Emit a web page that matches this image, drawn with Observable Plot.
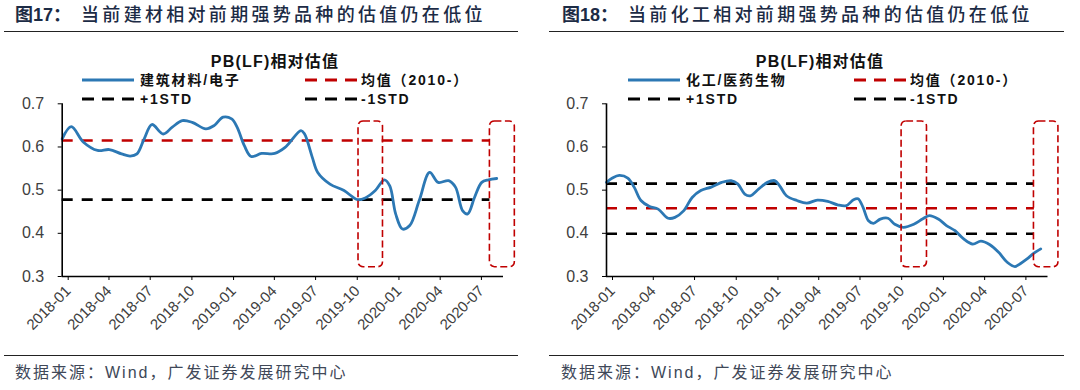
<!DOCTYPE html>
<html><head><meta charset="utf-8">
<script src="https://cdn.jsdelivr.net/npm/d3@7"></script>
<script src="https://cdn.jsdelivr.net/npm/@observablehq/plot@0.6"></script>
<style>
body{margin:0;width:1080px;height:390px;position:relative;background:#fff;overflow:hidden;
 font-family:"Liberation Sans","Noto Sans CJK SC",sans-serif;}
.abs{position:absolute;white-space:nowrap;}
.title{font-size:18px;color:#1c2b45;letter-spacing:3.3px;line-height:20px;font-weight:500;}
.title b{font-weight:bold;letter-spacing:0;margin-right:10px;}
.rule{position:absolute;height:1.5px;background:#222;}
.ctitle{font-size:16px;font-weight:bold;color:#111;letter-spacing:1.2px;transform:translateX(-50%);line-height:18px;}
.leg{font-size:14px;font-weight:bold;color:#111;letter-spacing:1.8px;line-height:16px;}
.src{font-size:16px;color:#404858;letter-spacing:2px;line-height:18px;}
svg.sym{position:absolute;overflow:visible;}
</style>
</head><body>
<div id="root"></div>
<script>
// ---------- data ----------
const xTicks = ["2018-01","2018-04","2018-07","2018-10","2019-01","2019-04","2019-07","2019-10","2020-01","2020-04","2020-07"];
const xDomain = ["2018-01-01","2020-09-01"];
const yTicks = [0.3,0.4,0.5,0.6,0.7];

const leftTitleNum = "图17：";
const leftTitle = "当前建材相对前期强势品种的估值仍在低位";
const rightTitleNum = "图18：";
const rightTitle = "当前化工相对前期强势品种的估值仍在低位";
const chartTitle = "PB(LF)相对估值";
const leftSeriesName = "建筑材料/电子";
const rightSeriesName = "化工/医药生物";
const refNames = ["均值（2010-）","+1STD","-1STD"];
const source = "数据来源：Wind，广发证券发展研究中心";

const leftDates = ["2018-01-01","2018-01-21","2018-02-17","2018-03-20","2018-04-15","2018-05-12","2018-05-31","2018-06-15","2018-07-01","2018-07-18","2018-08-12","2018-09-01","2018-09-23","2018-10-15","2018-11-14","2018-12-03","2018-12-22","2019-01-10","2019-01-22","2019-02-07","2019-02-22","2019-03-17","2019-04-15","2019-05-08","2019-06-12","2019-06-20","2019-07-07","2019-07-19","2019-08-15","2019-09-15","2019-10-15","2019-11-01","2019-11-23","2019-12-13","2019-12-25","2020-01-07","2020-01-22","2020-02-07","2020-02-28","2020-03-22","2020-04-10","2020-05-03","2020-05-18","2020-06-03","2020-06-14","2020-06-29","2020-07-15","2020-07-30","2020-08-17"];
const leftValues = [0.619,0.647,0.611,0.592,0.594,0.584,0.579,0.584,0.619,0.652,0.630,0.646,0.661,0.657,0.642,0.650,0.669,0.665,0.646,0.603,0.578,0.585,0.585,0.599,0.638,0.630,0.576,0.541,0.514,0.499,0.478,0.482,0.499,0.524,0.510,0.445,0.410,0.418,0.476,0.541,0.518,0.522,0.507,0.452,0.445,0.483,0.518,0.524,0.527];

const rightDates = ["2018-01-01","2018-01-14","2018-01-29","2018-02-17","2018-03-03","2018-03-18","2018-04-06","2018-04-25","2018-05-17","2018-06-01","2018-06-20","2018-07-09","2018-07-28","2018-08-20","2018-09-12","2018-10-03","2018-10-18","2018-11-02","2018-11-14","2018-12-03","2018-12-22","2019-01-07","2019-01-18","2019-02-02","2019-02-25","2019-03-19","2019-04-11","2019-05-04","2019-05-26","2019-06-14","2019-06-30","2019-07-10","2019-07-21","2019-08-02","2019-08-13","2019-08-28","2019-09-14","2019-09-29","2019-10-18","2019-11-10","2019-11-29","2019-12-14","2020-01-03","2020-01-21","2020-02-09","2020-02-28","2020-03-19","2020-04-06","2020-04-25","2020-05-15","2020-06-03","2020-06-20","2020-07-01","2020-07-16","2020-08-01","2020-08-16"];
const rightValues = [0.518,0.528,0.534,0.528,0.507,0.476,0.462,0.456,0.435,0.437,0.452,0.483,0.499,0.507,0.518,0.522,0.514,0.491,0.487,0.503,0.518,0.522,0.510,0.487,0.476,0.470,0.477,0.474,0.466,0.464,0.478,0.480,0.460,0.429,0.423,0.433,0.435,0.421,0.414,0.421,0.433,0.441,0.433,0.418,0.406,0.387,0.375,0.382,0.374,0.356,0.333,0.323,0.329,0.340,0.354,0.364];

// reference levels: [mean, +1STD, -1STD]  (null = off chart)
const leftRefs = [0.615, null, 0.478];
const rightRefs = [0.458, 0.515, 0.399];
const refStart = "2018-01-01";
const refEnd = "2020-08-02";

// highlighted periods (dashed boxes)
const leftBoxStart = ["2019-10-17","2020-08-02"];
const leftBoxEnd = ["2019-12-10","2020-09-26"];
const rightBoxStart = ["2019-10-14","2020-08-01"];
const rightBoxEnd = ["2019-12-09","2020-09-24"];
const boxLow = 0.3215, boxHigh = 0.659;

// ---------- drawing ----------
const BLUE = "#2c78b4", RED = "#c00000", BLACK = "#000";
const D = s => new Date(s + (s.length === 7 ? "-01" : ""));
const root = document.getElementById("root");

function el(tag, cls, style, html){
  const e = document.createElement(tag);
  if (cls) e.className = cls;
  Object.assign(e.style, style || {});
  if (html != null) e.innerHTML = html;
  root.appendChild(e); return e;
}
function sym(x, y, color, dashed){
  const ns = "http://www.w3.org/2000/svg";
  const s = document.createElementNS(ns, "svg");
  s.setAttribute("class","sym"); s.setAttribute("width",52); s.setAttribute("height",6);
  s.style.left = x + "px"; s.style.top = (y - 3) + "px";
  const l = document.createElementNS(ns, "line");
  l.setAttribute("x1",0); l.setAttribute("x2",52); l.setAttribute("y1",3); l.setAttribute("y2",3);
  l.setAttribute("stroke", color); l.setAttribute("stroke-width", 3);
  if (dashed) l.setAttribute("stroke-dasharray","12,8");
  s.appendChild(l); root.appendChild(s);
}

function panel(o){
  const ox = o.ox;
  el("div","abs title",{left:(ox+o.titleX)+"px",top:"5px"}, `<b>${o.num}</b>${o.title}`);
  el("div","rule",{left:(ox+o.ruleX1)+"px",width:(o.ruleX2-o.ruleX1)+"px",top:"30.5px"});
  el("div","rule",{left:(ox+o.ruleX1)+"px",width:(o.ruleX2-o.ruleX1)+"px",top:"354.5px"});
  el("div","abs src",{left:(ox+o.srcX)+"px",top:"364px"}, source);
  const series = o.dates.map((d,i)=>({date:D(d), value:o.values[i]}));
  const refColors = [RED, BLACK, BLACK];
  const refs = o.refs.map((v,i)=>({v, c:refColors[i]})).filter(r=>r.v!=null);
  const boxes = o.boxStart.map((s,i)=>({x1:D(s), x2:D(o.boxEnd[i]), y1:boxLow, y2:boxHigh}));
  const fmtX = d3.utcFormat("%Y-%m");
  const chart = Plot.plot({
    width:o.w, height:250,
    marginTop:13.3, marginBottom:64, marginLeft:o.ml, marginRight:o.mr,
    style:{fontFamily:'"Liberation Sans",Arial,sans-serif', fontSize:"15px", color:"#404040", background:"transparent", overflow:"visible"},
    x:{type:"utc", domain:xDomain.map(D), label:null},
    y:{domain:[0.3,0.7], label:null},
    marks:[
      Plot.axisY(yTicks, {tickSize:4, tickPadding:14, fontSize:16, tickFormat:d3.format(".1f"), stroke:"#000", fill:"#404040"}),
      Plot.axisX(xTicks.map(D), {tickSize:4, tickPadding:8, dx:6, tickRotate:-45, fontSize:15, tickFormat:fmtX, stroke:"#000", fill:"#404040"}),
      Plot.ruleY(refs, {y:"v", x1:D(refStart), x2:D(refEnd), stroke:"c", strokeWidth:2.6, strokeDasharray:"11,9"}),
      Plot.line(series, {x:"date", y:"value", stroke:BLUE, strokeWidth:2.8, curve:"catmull-rom"}),
      Plot.rect(boxes, {x1:"x1", x2:"x2", y1:"y1", y2:"y2", rx:5, fill:"none", stroke:RED, strokeWidth:1.6, strokeDasharray:"7,3.5"}),
      Plot.ruleX([D(xDomain[0])], {stroke:"#000", strokeWidth:1.6}),
      Plot.ruleY([0.3], {stroke:"#000", strokeWidth:1.6})
    ]
  });
  chart.style.position = "absolute";
  chart.style.left = ox + "px";
  chart.style.top = "90px";
  root.appendChild(chart);
  el("div","abs ctitle",{left:(ox+o.ctX)+"px",top:"53px"}, chartTitle);
  sym(ox+o.l1x, 80, BLUE, false);
  el("div","abs leg",{left:(ox+o.l1x+58)+"px",top:"72px"}, o.name);
  sym(ox+o.l2x, 80, RED, true);
  el("div","abs leg",{left:(ox+o.l2x+56)+"px",top:"72px"}, refNames[0]);
  sym(ox+o.l1x, 99, BLACK, true);
  el("div","abs leg",{left:(ox+o.l1x+58)+"px",top:"91px"}, refNames[1]);
  sym(ox+o.l2x, 99, BLACK, true);
  el("div","abs leg",{left:(ox+o.l2x+56)+"px",top:"91px"}, refNames[2]);
}

panel({ox:0, num:leftTitleNum, title:leftTitle, titleX:15, ruleX1:4, ruleX2:518, srcX:15,
  dates:leftDates, values:leftValues, refs:leftRefs, boxStart:leftBoxStart, boxEnd:leftBoxEnd,
  w:525, ml:61.7, mr:22, ctX:275, l1x:82, l2x:305, name:leftSeriesName});
panel({ox:540, num:rightTitleNum, title:rightTitle, titleX:22, ruleX1:9, ruleX2:524, srcX:21,
  dates:rightDates, values:rightValues, refs:rightRefs, boxStart:rightBoxStart, boxEnd:rightBoxEnd,
  w:525, ml:66, mr:17.5, ctX:280, l1x:88, l2x:314, name:rightSeriesName});
</script>
</body></html>
